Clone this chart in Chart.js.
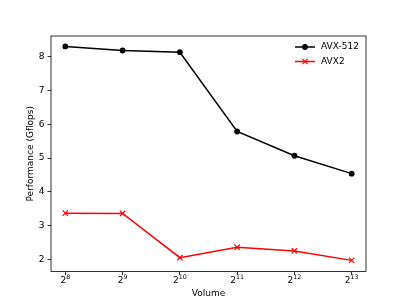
<!DOCTYPE html>
<html><head><meta charset="utf-8">
<script src="https://cdn.jsdelivr.net/npm/chart.js@4/dist/chart.umd.min.js"></script>
<style>html,body{margin:0;padding:0;background:#fff}#wrap{width:407px;height:305px}</style>
</head><body><div id="wrap"><canvas id="c" width="407" height="305"></canvas></div>
<script>
const exponents = [8, 9, 10, 11, 12, 13];
const avx512 = [8.31, 8.19, 8.14, 5.79, 5.07, 4.54];
const avx2 = [3.37, 3.36, 2.05, 2.36, 2.25, 1.97];
const yTicks = [2, 3, 4, 5, 6, 7, 8];
const FONT = 'DejaVu Sans';

const frame = {
  id: 'frame',
  afterDatasetsDraw(chart) {
    const a = chart.chartArea, ctx = chart.ctx;
    ctx.save();
    ctx.strokeStyle = '#000';
    ctx.lineWidth = 0.8;
    ctx.strokeRect(a.left, a.top, a.right - a.left, a.bottom - a.top);
    ctx.restore();
  }
};
// power-of-two tick labels drawn at the x scale's own tick positions
const powLabels = {
  id: 'powLabels',
  afterDraw(chart) {
    const s = chart.scales.x, ctx = chart.ctx;
    ctx.save();
    ctx.fillStyle = '#000';
    ctx.textBaseline = 'alphabetic';
    s.ticks.forEach(t => {
      const x = s.getPixelForValue(t.value);
      const base = '2', sup = String(t.value);
      ctx.font = '9px "' + FONT + '"';
      const wb = ctx.measureText(base).width;
      ctx.font = '6.3px "' + FONT + '"';
      const ws = ctx.measureText(sup).width;
      const x0 = x - (wb + ws) / 2;
      ctx.font = '9px "' + FONT + '"';
      ctx.textAlign = 'left';
      ctx.fillText(base, x0, 283.3);
      ctx.font = '6.3px "' + FONT + '"';
      ctx.fillText(sup, x0 + wb, 278.8);
    });
    ctx.restore();
  }
};
const legend = {
  id: 'mplLegend',
  afterDraw(chart) {
    const ctx = chart.ctx;
    ctx.save();
    ctx.font = '9px "' + FONT + '"';
    ctx.textBaseline = 'middle';
    ctx.fillStyle = '#000';
    chart.data.datasets.forEach((ds, i) => {
      const y = 47 + i * 14.5;
      const x0 = 295, x1 = 315, xm = 305;
      ctx.strokeStyle = ds.borderColor;
      ctx.lineWidth = 1.5;
      ctx.beginPath(); ctx.moveTo(x0, y); ctx.lineTo(x1, y); ctx.stroke();
      if (ds.pointStyle === 'circle') {
        ctx.fillStyle = ds.pointBackgroundColor;
        ctx.beginPath(); ctx.arc(xm, y, 2.9, 0, Math.PI * 2); ctx.fill();
      } else {
        const r = 2.7;
        ctx.lineWidth = 1.2;
        ctx.beginPath();
        ctx.moveTo(xm - r, y - r); ctx.lineTo(xm + r, y + r);
        ctx.moveTo(xm - r, y + r); ctx.lineTo(xm + r, y - r);
        ctx.stroke();
      }
      ctx.fillStyle = '#000';
      ctx.fillText(ds.label, 321, y);
    });
    ctx.restore();
  }
};

new Chart(document.getElementById('c'), {
  type: 'line',
  data: {
    datasets: [
      { label: 'AVX-512', data: exponents.map((x, i) => ({x, y: avx512[i]})),
        borderColor: '#000', backgroundColor: '#000', pointBackgroundColor: '#000',
        pointBorderColor: '#000', pointStyle: 'circle', pointRadius: 2.9, pointBorderWidth: 0,
        borderWidth: 1.5, tension: 0 },
      { label: 'AVX2', data: exponents.map((x, i) => ({x, y: avx2[i]})),
        borderColor: '#ff0000', backgroundColor: '#ff0000', pointBackgroundColor: '#ff0000',
        pointBorderColor: '#ff0000', pointStyle: 'crossRot', pointRadius: 3.8, pointBorderWidth: 1.2,
        borderWidth: 1.5, tension: 0 }
    ]
  },
  options: {
    responsive: false, animation: false, devicePixelRatio: 1,
    layout: { padding: { left: 0, right: 41, top: 36, bottom: 0 } },
    plugins: { legend: { display: false }, tooltip: { enabled: false } },
    scales: {
      x: {
        type: 'linear', min: 7.75, max: 13.25,
        afterFit(s) { s.height = 33.5; },
        afterBuildTicks(s) { s.ticks = exponents.map(v => ({value: v})); },
        grid: { display: true, drawOnChartArea: false, drawTicks: true, tickLength: 3.5, color: '#000', lineWidth: 0.8 },
        border: { display: false },
        ticks: { color: 'rgba(0,0,0,0)', font: { family: FONT, size: 9 }, padding: 1, maxRotation: 0 },
        title: { display: true, text: 'Volume', color: '#000', font: { family: FONT, size: 9 }, padding: { top: 0, bottom: 6 } }
      },
      y: {
        type: 'linear', min: 1.64, max: 8.62,
        afterFit(s) { s.width = 51; },
        afterBuildTicks(s) { s.ticks = yTicks.map(v => ({value: v})); },
        grid: { display: true, drawOnChartArea: false, drawTicks: true, tickLength: 3.5, color: '#000', lineWidth: 0.8 },
        border: { display: false },
        ticks: { color: '#000', font: { family: FONT, size: 9 }, padding: 3 },
        title: { display: true, text: 'Performance (Gflops)', color: '#000', font: { family: FONT, size: 9 }, padding: { top: 25, bottom: 0 } }
      }
    }
  },
  plugins: [frame, powLabels, legend]
});
</script></body></html>
